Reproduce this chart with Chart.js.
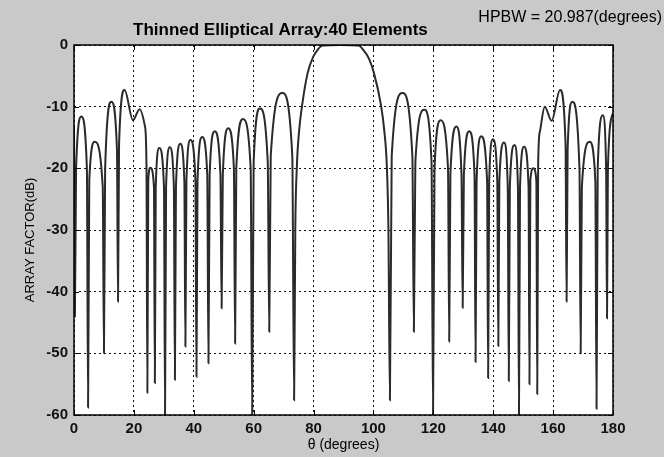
<!DOCTYPE html>
<html>
<head>
<meta charset="utf-8">
<script src="https://cdn.jsdelivr.net/npm/chart.js@4.4.0/dist/chart.umd.min.js"></script>
<style>
html, body { margin: 0; padding: 0; background: #c9c9c9; }
#wrap { width: 664px; height: 457px; }
</style>
</head>
<body>
<div id="wrap"><canvas id="af-chart" width="664" height="457"></canvas></div>
<script>
// values: angle (deg) and array factor (dB)
const thetaDeg = [
    0, 0.3, 0.7, 2.45, 4.3, 4.7, 5.1, 6.9, 9.6, 10.0, 10.4, 12.5, 14.35, 14.7, 15.05, 16.9,
    19.7, 21.9, 23.7, 24.2, 24.5, 24.8, 25.5, 26.7, 27.0, 27.3, 28.5, 30.05, 30.4, 30.75,
    32.0, 33.35, 33.7, 34.05, 35.5, 36.85, 37.2, 37.55, 38.9, 40.55, 40.9, 41.25, 42.8,
    44.5, 44.9, 45.3, 47.0, 48.9, 49.3, 49.7, 51.5, 53.4, 53.8, 54.2, 56.4, 59.0, 59.5,
    60.0, 62.1, 64.7, 65.2, 65.7, 69.6, 72.9, 73.5,
    73.9, 74.4, 75.2, 76.2, 78.0, 80.0, 81.5, 83.0, 89.0, 95.0, 96.6, 98.5, 100.2, 102.5,
    103.6, 104.5, 105.0, 105.5,
    106.1, 109.7, 113.0, 113.5, 114.0, 117.0, 119.4, 119.9, 120.4, 122.4, 124.9, 125.3,
    125.7, 127.7, 129.4, 129.8, 130.2, 132.0, 133.75, 134.1, 134.45, 136.0, 137.95, 138.3,
    138.65, 139.9, 141.35, 141.7, 142.05, 143.6, 144.85, 145.2, 145.55, 147.1, 148.25,
    148.6, 148.95, 150.3, 151.8, 152.1, 152.4, 153.4, 154.4, 154.7, 155.0, 155.6, 157.2,
    159.5, 162.3, 164.15, 164.5, 164.85, 166.4, 168.8, 169.2, 169.6, 172.2, 174.1, 174.5,
    174.9, 176.6, 177.7, 178.0, 178.3, 180
];
const afDb = [
    -13, -44, -20, -11.6, -20, -58.8, -22, -15.7, -23, -50, -20, -9.2, -17, -41.6, -16, -7.3,
    -12.2, -10.4, -13.2, -19.5, -56.4, -22, -19.9, -23, -54.8, -23, -16.7, -23, -60, -23,
    -16.6, -23, -54.3, -23, -16.0, -22, -48.9, -22, -15.4, -22, -53.8, -22, -14.9,
    -21, -51.6, -21, -14.0, -21, -42.7, -21, -13.5, -20, -48.4, -20, -12.0, -20, -60,
    -19, -10.3, -19, -46.5, -18, -7.8, -18, -57.6,
    -30, -20, -13.8, -9.7, -4.6, -1.8, -0.7, -0.1, 0, -0.1, -0.8, -2.2, -4.6, -9.7,
    -13.8, -20, -30, -57.6,
    -18, -7.8, -18, -46.5, -19, -10.5, -19, -60, -20, -12.2, -20, -48.1,
    -21, -13.2, -21, -42.6, -21, -14.0, -21, -51.4, -22, -14.8, -22, -54,
    -22, -15.3, -22, -48.8, -22, -15.8, -23, -54.5, -23, -16.2, -23,
    -60, -23, -16.5, -23, -55, -22, -20, -22, -56.6, -19.5, -14, -10,
    -12.3, -7.3, -16, -41.6, -17, -9.2, -20, -50, -23, -15.7, -22, -59,
    -20, -11.4, -20, -44.3, -20, -11
];
const xTicks = [0, 20, 40, 60, 80, 100, 120, 140, 160, 180];
const yTicks = [0, -10, -20, -30, -40, -50, -60];

const chartTitle = 'Thinned Elliptical Array:40 Elements';
const hpbwNote = 'HPBW = 20.987(degrees)';
const xLabel = 'θ (degrees)';
const yLabel = 'ARRAY FACTOR(dB)';

const tickFont = { family: 'Liberation Sans, Arial, sans-serif', size: 15, weight: 'bold' };

const matlabFrame = {
    id: 'matlabFrame',
    beforeDraw(chart) {
        const { ctx, chartArea: a } = chart;
        ctx.save();
        ctx.fillStyle = '#c9c9c9';
        ctx.fillRect(0, 0, chart.width, chart.height);
        ctx.fillStyle = '#ffffff';
        ctx.fillRect(a.left, a.top, a.right - a.left, a.bottom - a.top);
        ctx.restore();
    },
    afterDraw(chart) {
        const { ctx, chartArea: a } = chart;
        const xs = chart.scales.x, ys = chart.scales.y;
        ctx.save();
        // box
        ctx.strokeStyle = '#000';
        ctx.lineWidth = 1.5;
        ctx.strokeRect(a.left, a.top, a.right - a.left, a.bottom - a.top);
        // inner tick marks
        ctx.lineWidth = 1;
        ctx.beginPath();
        xTicks.forEach(v => {
            const px = Math.round(xs.getPixelForValue(v)) + 0.5;
            ctx.moveTo(px, a.bottom); ctx.lineTo(px, a.bottom - 5);
            ctx.moveTo(px, a.top); ctx.lineTo(px, a.top + 5);
        });
        yTicks.forEach(v => {
            const py = Math.round(ys.getPixelForValue(v)) + 0.5;
            ctx.moveTo(a.left, py); ctx.lineTo(a.left + 5, py);
            ctx.moveTo(a.right, py); ctx.lineTo(a.right - 5, py);
        });
        ctx.stroke();

        ctx.fillStyle = '#000';
        // title
        ctx.font = 'bold 17px Liberation Sans, Arial, sans-serif';
        ctx.textAlign = 'left';
        ctx.textBaseline = 'alphabetic';
        ctx.fillText(chartTitle, 133, 35);
        // HPBW note
        ctx.font = '16px Liberation Sans, Arial, sans-serif';
        ctx.textAlign = 'right';
        ctx.fillText(hpbwNote, 662, 22);
        // axis titles
        ctx.font = '14px Liberation Sans, Arial, sans-serif';
        ctx.textAlign = 'center';
        ctx.textBaseline = 'middle';
        ctx.fillText(xLabel, (a.left + a.right) / 2, 445);
        ctx.translate(30, (a.top + a.bottom) / 2 + 10);
        ctx.rotate(-Math.PI / 2);
        ctx.font = '13px Liberation Sans, Arial, sans-serif';
        ctx.fillText(yLabel, 0, 0);
        ctx.restore();
    }
};

new Chart(document.getElementById('af-chart'), {
    type: 'line',
    data: {
        datasets: [{
            label: 'Array factor',
            data: thetaDeg.map((t, i) => ({ x: t, y: afDb[i] })),
            borderColor: '#2b2b2b',
            borderWidth: 2,
            pointRadius: 0,
            fill: false,
            cubicInterpolationMode: 'monotone'
        }]
    },
    options: {
        responsive: false,
        animation: false,
        devicePixelRatio: 1,
        layout: { padding: { top: 45, right: 51, left: 0, bottom: 0 } },
        plugins: {
            legend: { display: false },
            tooltip: { enabled: false },
            title: { display: false }
        },
        scales: {
            x: {
                type: 'linear',
                min: 0,
                max: 180,
                afterBuildTicks: s => { s.ticks = xTicks.map(v => ({ value: v })); },
                afterFit: s => { s.height = 42; },
                ticks: { font: tickFont, color: '#111', padding: 5, maxRotation: 0 },
                grid: { color: '#111', lineWidth: 1, drawTicks: false },
                border: { display: false, dash: [2, 3] }
            },
            y: {
                min: -60,
                max: 0,
                afterBuildTicks: s => { s.ticks = yTicks.map(v => ({ value: v })); },
                afterFit: s => { s.width = 74; },
                ticks: { font: tickFont, color: '#111', padding: 6 },
                grid: { color: '#111', lineWidth: 1, drawTicks: false },
                border: { display: false, dash: [2, 3] }
            }
        }
    },
    plugins: [matlabFrame]
});
</script>
</body>
</html>
